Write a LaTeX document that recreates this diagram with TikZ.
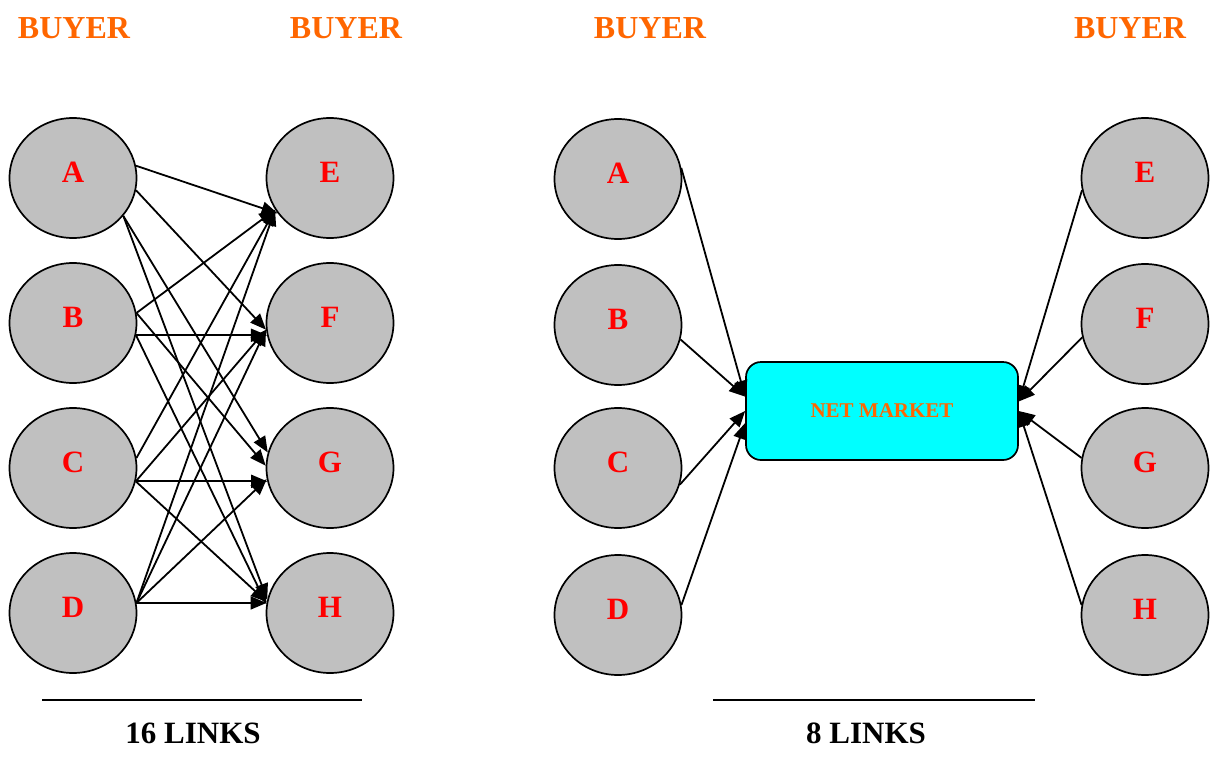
\documentclass[tikz,border=0pt]{standalone}
\usepackage{fontspec}
\setmainfont{Liberation Serif}
\usetikzlibrary{shapes.geometric,arrows.meta}
\definecolor{buyerorange}{HTML}{FF6600}
\definecolor{nodegray}{HTML}{C0C0C0}
\definecolor{marketcyan}{HTML}{00FFFF}
\begin{document}
\begin{tikzpicture}[x=0.5pt,y=-0.5pt,
  buyer/.style={ellipse,draw=black,line width=0.85pt,fill=nodegray,
    minimum width=63.5pt,minimum height=60pt,inner sep=0pt},
  letter/.style={font=\fontsize{15.5}{18}\selectfont\bfseries,text=red,yshift=3pt},
  heading/.style={font=\fontsize{16}{19}\selectfont\bfseries,text=buyerorange},
  caption/.style={font=\fontsize{15.5}{18}\selectfont\bfseries},
  link/.style={line width=0.9pt,-{Triangle[length=8pt,width=6.5pt]}},
  market/.style={draw=black,line width=0.85pt,fill=marketcyan,rounded corners=7.5pt,
    minimum width=136pt,minimum height=49pt,inner sep=0pt,
    font=\fontsize{10.5}{12}\selectfont\bfseries,text=buyerorange},
  rule/.style={line width=0.9pt}]
\useasboundingbox (0,0) rectangle (1217,772);

% headings
\node[heading] (h1) at (74,28) {BUYER};
\node[heading] (h2) at (346,28) {BUYER};
\node[heading] (h3) at (650,28) {BUYER};
\node[heading] (h4) at (1130,28) {BUYER};

% left group: every buyer linked directly
\foreach \n/\x/\y in {LA/73/178,LB/73/323,LC/73/468,LD/73/613,
                      LE/330/178,LF/330/323,LG/330/468,LH/330/613}
  \node[buyer] (\n) at (\x,\y) {};
\foreach \n/\t in {LA/A,LB/B,LC/C,LD/D,LE/E,LF/F,LG/G,LH/H}
  \node[letter] (t\n) at (\n) {\t};

\draw[link] (LA.11)  -- (LE.214);
\draw[link] (LA.-11) -- (LF.186);
\draw[link] (LA.-37) -- (LG.166);
\draw[link] (LA.-37) -- (LH.168);
\draw[link] (LB.9)   -- (LE.210);
\draw[link] (LB.-11) -- (LF.191);
\draw[link] (LB.9)   -- (LG.178);
\draw[link] (LB.-11) -- (LH.172);
\draw[link] (LC.9)   -- (LE.210);
\draw[link] (LC.-12) -- (LF.186);
\draw[link] (LC.-12) -- (LG.192);
\draw[link] (LC.-12) -- (LH.170);
\draw[link] (LD.9)   -- (LE.210);
\draw[link] (LD.9)   -- (LF.186);
\draw[link] (LD.9)   -- (LG.190);
\draw[link] (LD.9)   -- (LH.171);

% right group: every buyer linked through the market
\foreach \n/\x/\y in {RA/618/179,RB/618/325,RC/618/468,RD/618/615,
                      RE/1145/178,RF/1145/324,RG/1145/468,RH/1145/615}
  \node[buyer] (\n) at (\x,\y) {};
\foreach \n/\t in {RA/A,RB/B,RC/C,RD/D,RE/E,RF/F,RG/G,RH/H}
  \node[letter] (t\n) at (\n) {\t};

\node[market] (NM) at (882,411) {NET MARKET};

\draw[link] (RA.10)  -- (NM.174);
\draw[link] (RB.-13) -- (NM.174);
\draw[link] (RC.-15) -- (NM.180);
\draw[link] (RD.9)   -- (NM.185);
\draw[link] (RE.191) -- (NM.4);
\draw[link] (RF.192) -- (NM.4);
\draw[link] (RG.171) -- (NM.0);
\draw[link] (RH.171) -- (NM.0);

% captions
\coordinate (r1a) at (42,700);
\coordinate (r1b) at (362,700);
\coordinate (r2a) at (713,700);
\coordinate (r2b) at (1035,700);
\draw[rule] (r1a) -- (r1b);
\draw[rule] (r2a) -- (r2b);
\node[caption] (c1) at (193,733) {16 LINKS};
\node[caption] (c2) at (866,733) {8 LINKS};
\end{tikzpicture}
\end{document}
